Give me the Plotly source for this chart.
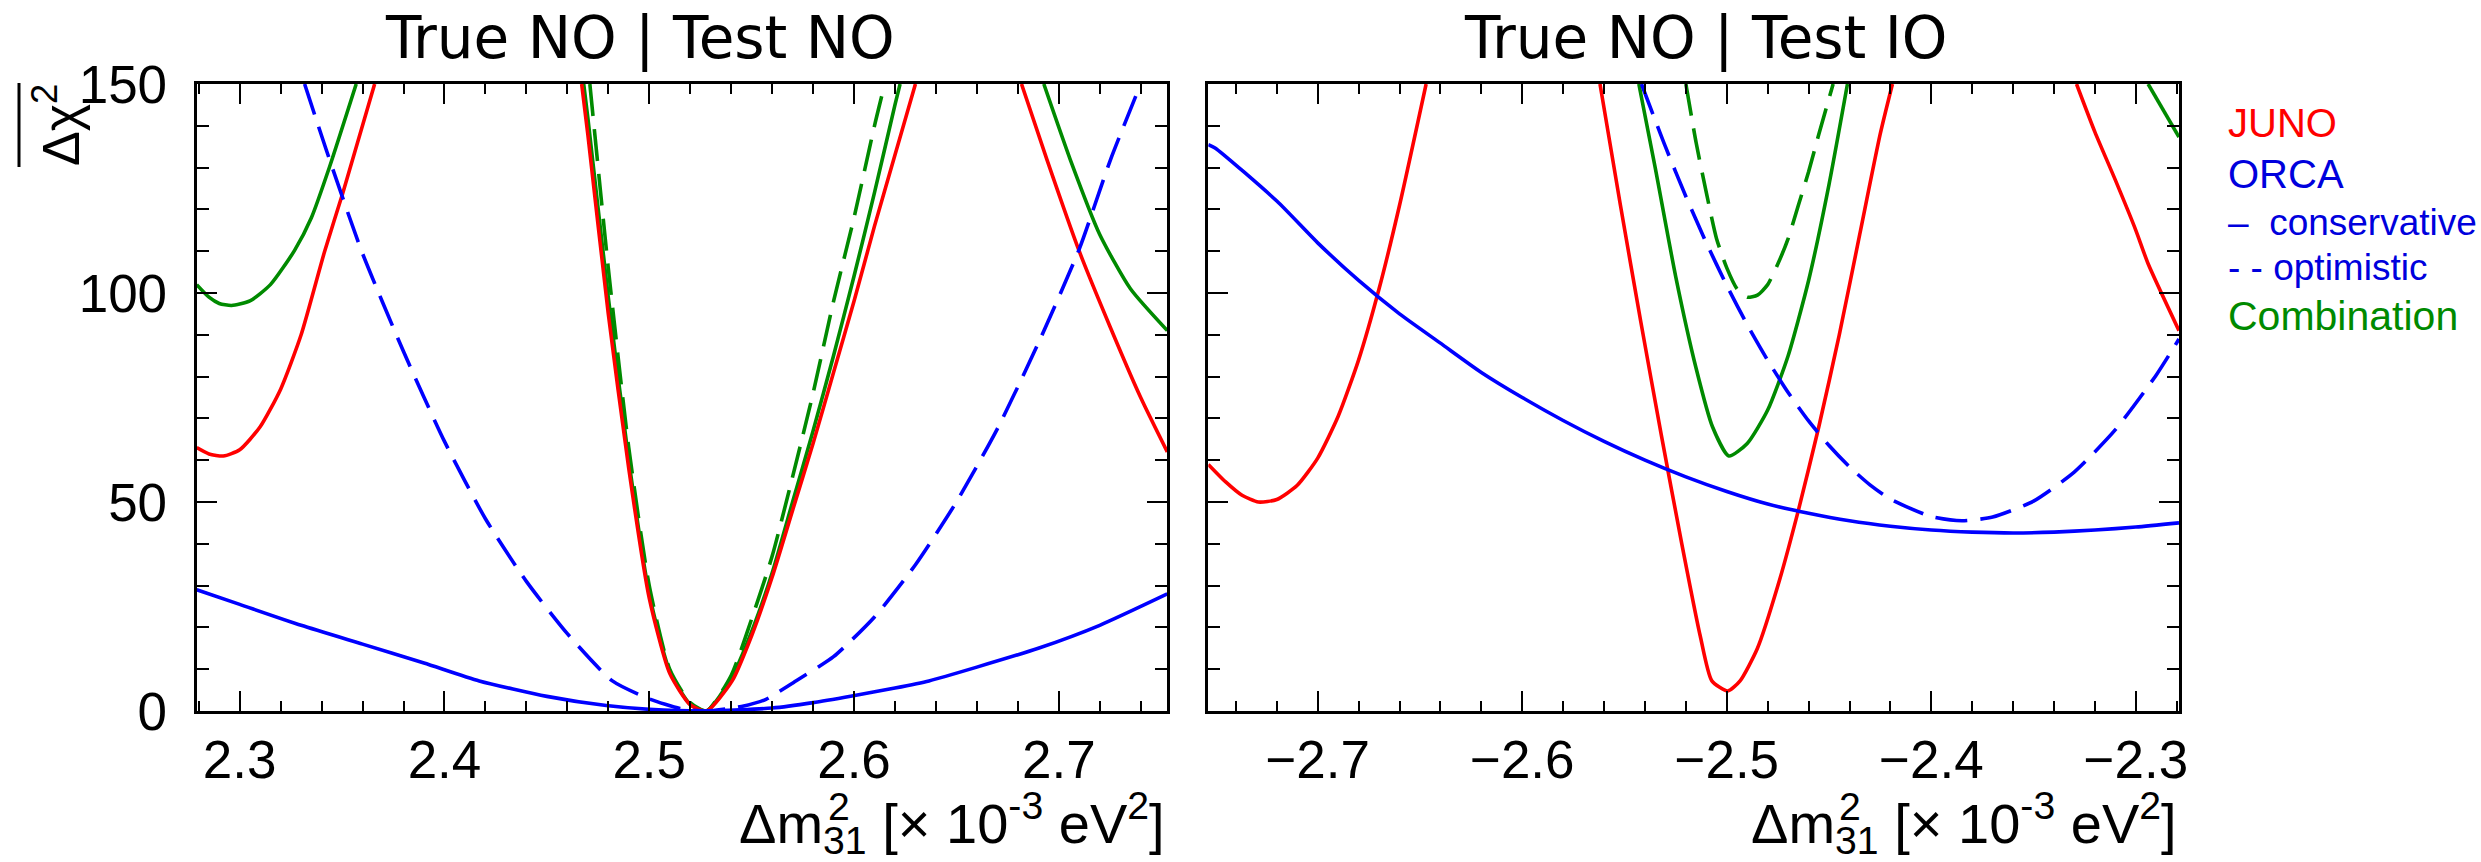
import plotly.graph_objects as go

# ---------------- data (Delta m^2_31 in 1e-3 eV^2, Delta chi^2) ----------------
# Left panel: True NO | Test NO
juno_no_x = [2.279, 2.285, 2.292, 2.300, 2.310, 2.320, 2.330, 2.3415, 2.3504, 2.3659, None,
             2.467, 2.470, 2.480, 2.490, 2.500, 2.510, 2.520, 2.528, 2.5405, 2.550, 2.560, 2.570,
             2.580, 2.590, 2.600, 2.610, 2.620, 2.630, None,
             2.6818, 2.6943, 2.710, 2.725, 2.740, 2.753]
juno_no_y = [63, 61.5, 61, 62.5, 68, 77, 90, 110, 124, 150, None,
             150, 138, 95, 58, 27, 9, 1.5, 0, 7.2, 18, 32, 48,
             64, 81, 98, 116, 133, 150, None,
             150, 131.8, 110, 92, 75, 62]

orca_cons_no_x = [2.279, 2.300, 2.330, 2.360, 2.390, 2.417, 2.450, 2.479, 2.500, 2.528,
                  2.560, 2.580, 2.599, 2.620, 2.6366, 2.660, 2.690, 2.720, 2.753]
orca_cons_no_y = [29, 25.5, 20.5, 16, 11.5, 7.2, 3.5, 1.3, 0.4, 0,
                  0.7, 2, 3.6, 5.5, 7.2, 10.5, 15, 20.5, 28]

orca_opt_no_x = [2.3317, 2.3423, 2.3594, 2.380, 2.400, 2.420, 2.440, 2.460, 2.482, 2.500, 2.515,
                 2.528, 2.545, 2.557, 2.5716, 2.590, 2.610, 2.630, 2.650, 2.670, 2.690, 2.710,
                 2.7252, 2.740]
orca_opt_no_y = [150, 134.2, 110.2, 86, 64.5, 46, 31, 18.5, 7.2, 2.9, 0.6,
                 0, 1.1, 2.8, 7.2, 13, 22.5, 35, 50, 67.5, 88, 110.5,
                 131.8, 150]

comb_cons_no_x = [2.279, 2.285, 2.290, 2.296, 2.305, 2.315, 2.3268, 2.335, 2.3439, 2.3569, None,
                  2.468, 2.470, 2.480, 2.490, 2.500, 2.510, 2.520, 2.528, 2.540, 2.550, 2.560,
                  2.570, 2.580, 2.590, 2.600, 2.610, 2.620, 2.6225, None,
                  2.6927, 2.7057, 2.720, 2.735, 2.753]
comb_cons_no_y = [102, 99, 97.5, 97, 98.1, 102, 110.2, 118, 130.2, 150, None,
                  150, 142, 99, 60, 28, 9.5, 1.6, 0, 7.8, 19, 33,
                  50, 67, 85, 104, 124, 145, 150, None,
                  150, 131.8, 114, 101, 91]

comb_opt_no_x = [2.471, 2.480, 2.490, 2.500, 2.510, 2.520, 2.528, 2.540, 2.550, 2.560,
                 2.570, 2.580, 2.590, 2.600, 2.610, 2.615]
comb_opt_no_y = [150, 106, 63, 30, 10, 2, 0, 8.5, 22, 37,
                 56, 76, 98, 118, 140, 150]

# Right panel: True NO | Test IO
juno_io_x = [-2.7535, -2.745, -2.737, -2.729, -2.720, -2.710, -2.700, -2.690, -2.680, -2.670,
             -2.660, -2.647, None,
             -2.562, -2.552, -2.542, -2.532, -2.522, -2.513, -2.5073, -2.4995, -2.4935, -2.485,
             -2.475, -2.465, -2.455, -2.445, -2.435, -2.425, -2.419, None,
             -2.329, -2.320, -2.310, -2.300, -2.294, -2.2789]
juno_io_y = [59, 54.8, 51.6, 50, 50.6, 54, 60.5, 70.5, 84, 101,
             121, 150, None,
             150, 121, 93, 66, 40, 18, 7.2, 4.8, 7.2, 15,
             30, 48, 68, 90, 114, 138, 150, None,
             150, 138.5, 127, 115, 107, 91]

orca_cons_io_x = [-2.7535, -2.7502, -2.720, -2.700, -2.680, -2.660, -2.640, -2.620, -2.600, -2.580,
                  -2.560, -2.540, -2.520, -2.500, -2.480, -2.460, -2.440, -2.420, -2.400, -2.380,
                  -2.360, -2.340, -2.320, -2.300, -2.2789]
orca_cons_io_y = [135.5, 134.7, 122, 112, 103, 95, 88, 81, 75, 69.5,
                  64.5, 60, 56, 52.5, 49.5, 47.3, 45.5, 44.2, 43.3, 42.8,
                  42.6, 42.8, 43.3, 44, 45]

orca_opt_io_x = [-2.5417, -2.530, -2.520, -2.510, -2.500, -2.490, -2.480, -2.470, -2.460, -2.450,
                 -2.440, -2.430, -2.420, -2.400, -2.385, -2.370, -2.350, -2.330, -2.310, -2.290,
                 -2.2789]
orca_opt_io_y = [150, 135, 123.1, 112, 101.8, 92.4, 83.9, 76.2, 69.4, 63.5,
                 58.4, 54.1, 50.7, 46.5, 45.5, 46.4, 50.2, 57.2, 67.3, 80.4,
                 89]

comb_cons_io_x = [-2.543, -2.535, -2.525, -2.515, -2.507, -2.499, -2.490, -2.480, -2.470, -2.460,
                  -2.450, -2.441, None, -2.294, -2.2789]
comb_cons_io_y = [150, 130, 104, 82, 68, 61, 64, 72, 85, 103,
                  126, 150, None, 150, 137.3]

comb_opt_io_x = [-2.520, -2.515, -2.510, -2.505, -2.500, -2.495, -2.490, -2.485, -2.480, -2.475,
                 -2.470, -2.465, -2.460, -2.455, -2.448]
comb_opt_io_y = [150, 136, 124, 113, 106, 101, 99, 99.5, 102, 107,
                 113, 121, 129, 138, 150]

panel_titles = ["True NO | Test NO", "True NO | Test IO"]
legend_lines = ["JUNO", "ORCA", "–\u00a0 conservative", "- - optimistic", "Combination"]

# ---------------- styling ----------------
W, H = 2481, 862
RED, BLUE, GREEN = "#ff0000", "#0000ff", "#008a00"
DASH = "32px,13px"
LW = 3.6
SANS = "Liberation Sans, Arial, sans-serif"


def px_x(p):
    return p / W


def px_y(p):
    return 1 - p / H


fig = go.Figure()


def add(x, y, color, dash, xa, ya):
    fig.add_trace(go.Scatter(
        x=x, y=y, mode="lines", xaxis=xa, yaxis=ya, showlegend=False,
        hoverinfo="skip", connectgaps=False, cliponaxis=True,
        line=dict(color=color, width=LW, dash=dash, shape="spline", smoothing=0.6)))


for xa, ya, sets in [
    ("x", "y", [(comb_opt_no_x, comb_opt_no_y, GREEN, DASH),
                (comb_cons_no_x, comb_cons_no_y, GREEN, "solid"),
                (juno_no_x, juno_no_y, RED, "solid"),
                (orca_opt_no_x, orca_opt_no_y, BLUE, DASH),
                (orca_cons_no_x, orca_cons_no_y, BLUE, "solid")]),
    ("x2", "y2", [(comb_opt_io_x, comb_opt_io_y, GREEN, DASH),
                  (comb_cons_io_x, comb_cons_io_y, GREEN, "solid"),
                  (juno_io_x, juno_io_y, RED, "solid"),
                  (orca_opt_io_x, orca_opt_io_y, BLUE, DASH),
                  (orca_cons_io_x, orca_cons_io_y, BLUE, "solid")]),
]:
    for x, y, c, d in sets:
        add(x, y, c, d, xa, ya)

tickfont = dict(family=SANS, size=53, color="black")
common = dict(showline=True, linecolor="black", linewidth=3, mirror="ticks",
              ticks="inside", ticklen=20, tickwidth=2, tickcolor="black",
              showgrid=False, zeroline=False, tickfont=tickfont, automargin=False)

ydom = [px_y(711), px_y(84)]
xminor = dict(ticks="inside", ticklen=10, dtick=0.02, tickwidth=2, tickcolor="black",
              showgrid=False)
yminor = dict(ticks="inside", ticklen=12, dtick=10, tick0=0, tickwidth=2, tickcolor="black",
              showgrid=False)
fig.update_layout(
    template="none",
    width=W, height=H, autosize=False,
    margin=dict(l=0, r=0, t=0, b=0, pad=0),
    paper_bgcolor="white", plot_bgcolor="white", showlegend=False,
    xaxis=dict(domain=[px_x(196.7), px_x(1167.3)], range=[2.279, 2.753], anchor="y",
               dtick=0.1, tick0=2.3, ticklabelstandoff=0,
               minor=dict(tick0=2.3, **xminor), **common),
    yaxis=dict(domain=ydom, range=[0, 150], anchor="x", dtick=50, tick0=0,
               ticklabelstandoff=16, minor=yminor, **common),
    xaxis2=dict(domain=[px_x(1208.3), px_x(2179)], range=[-2.7535, -2.2789], anchor="y2",
                dtick=0.1, tick0=-2.7, ticklabelstandoff=0,
                minor=dict(tick0=-2.7, **xminor), **common),
    yaxis2=dict(domain=ydom, range=[0, 150], anchor="x2", dtick=50, tick0=0,
                showticklabels=False, minor=yminor, **common),
)

ann = []
# panel titles
for t, cx in zip(panel_titles, [640, 1706]):
    ann.append(dict(text=t, x=px_x(cx), y=px_y(38), xref="paper", yref="paper",
                    xanchor="center", yanchor="middle", showarrow=False,
                    font=dict(family="DejaVu Sans", size=58, color="black")))
# x-axis titles (superscript 2 stacked over the subscript 31)
XS = 56
xt = "Δm<sub>31</sub> [× 10<sup>-3</sup> eV<sup>2</sup>]"
for rx in [1167.3, 2179]:
    ann.append(dict(text=xt, x=px_x(rx), y=px_y(823), xref="paper", yref="paper",
                    xanchor="right", yanchor="middle", showarrow=False,
                    font=dict(family=SANS, size=XS, color="black")))
    ann.append(dict(text="2", x=px_x(rx - 6.1 * XS), y=px_y(806), xref="paper", yref="paper",
                    xanchor="left", yanchor="middle", showarrow=False,
                    font=dict(family=SANS, size=0.7 * XS, color="black")))
# y-axis title
ann.append(dict(text="Δχ<sup>2</sup>", x=px_x(57), y=px_y(125), xref="paper", yref="paper",
                xanchor="center", yanchor="middle", textangle=-90, showarrow=False,
                font=dict(family=SANS, size=52, color="black")))
# legend text
leg_colors = [RED, "#0000dd", "#0000dd", "#0000dd", GREEN]
leg_sizes = [40, 40, 37, 37, 41]
leg_y = [122.8, 174.4, 222.2, 267.2, 316]
for t, c, s, yy in zip(legend_lines, leg_colors, leg_sizes, leg_y):
    ann.append(dict(text=t, x=px_x(2226), y=px_y(yy), xref="paper", yref="paper",
                    xanchor="left", yanchor="middle", showarrow=False,
                    font=dict(family=SANS, size=s, color=c)))
fig.update_layout(annotations=ann)

# overline of the y-axis title
fig.add_shape(type="line", xref="paper", yref="paper",
              x0=px_x(19), x1=px_x(19), y0=px_y(83), y1=px_y(167),
              line=dict(color="black", width=3))

fig.write_html("out.html")
